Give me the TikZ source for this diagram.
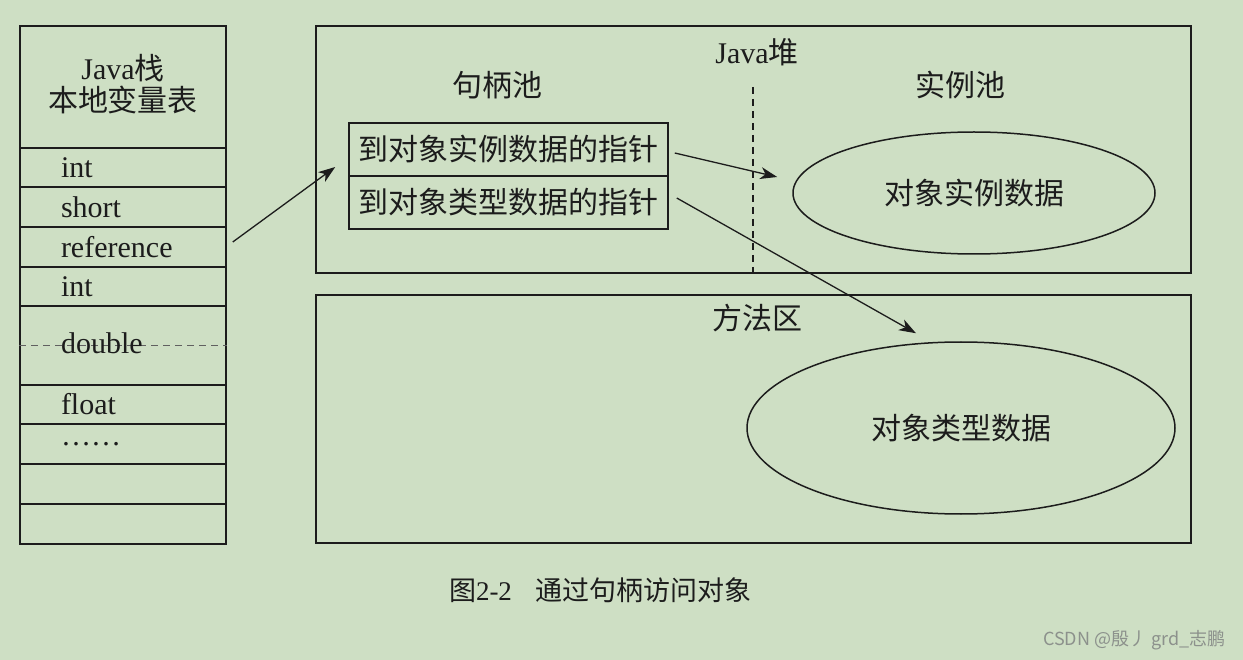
\documentclass[tikz,border=0pt]{standalone}
\usepackage{fontspec}
\setmainfont{Liberation Serif}
\newfontfamily\cjk{Noto Sans CJK SC}
\newfontfamily\wmfont{Noto Sans CJK SC}
\usetikzlibrary{arrows.meta,shapes.geometric}
\definecolor{bg}{RGB}{206,223,196}
\definecolor{ink}{RGB}{28,28,28}
\definecolor{wmgray}{RGB}{140,145,140}
\begin{document}
\begin{tikzpicture}[x=1pt,y=-1pt,
  every node/.style={text=ink},
  box/.style={draw=ink, line width=1.5pt, inner sep=0pt},
  row/.style={draw=ink, line width=1.5pt, minimum width=206pt, text width=124pt, inner xsep=41pt, inner ysep=0pt, align=left, font=\fontsize{30}{32}\selectfont},
  big/.style={font=\fontsize{30}{34}\selectfont},
  oval/.style={draw=ink, line width=1.5pt, ellipse, inner sep=0pt, font=\fontsize{30}{34}\selectfont},
  arr/.style={draw=ink, line width=1.3pt, -{Stealth[length=17pt,width=12pt,inset=5pt]}},
  dsh/.style={draw=ink, line width=1.1pt, dash pattern=on 7pt off 5pt}
]
\useasboundingbox[fill=bg] (0,0) rectangle (1243,660);

% Java stack
\node[box, minimum width=206pt, minimum height=122pt] (hdr) at (123,87) {};
\node[big, align=center] (hdrtxt) at (123,84) {Java{\cjk 栈}\\[-2pt]{\cjk 本地变量表}};
\node[row, minimum height=39pt] (r1) at (123,167.5) {int};
\node[row, minimum height=40pt] (r2) at (123,207) {short};
\node[row, minimum height=40pt] (r3) at (123,247) {reference};
\node[row, minimum height=39pt] (r4) at (123,286.5) {int};
\node[row, minimum height=79pt] (r5) at (123,345.5) {};
\draw[dsh, draw=ink!70] (r5.west) -- (r5.east);
\node[row, draw=none, minimum height=40pt] (r5t) at (123,343) {double};
\node[row, minimum height=39pt] (r6) at (123,404.5) {float};
\node[row, minimum height=40pt] (r7) at (123,444) {……};
\node[row, minimum height=40pt] (r8) at (123,484) {};
\node[row, minimum height=40pt] (r9) at (123,524) {};

% Java heap
\node[box, minimum width=875pt, minimum height=247pt] (heap) at (753.5,149.5) {};
\node[big] (heaplbl) at (757,52) {Java{\cjk 堆}};
\node[big] (poolA) at (497,85) {\cjk 句柄池};
\node[big] (poolB) at (960,85) {\cjk 实例池};
\coordinate (dtop) at (753,87);
\draw[dsh] (dtop) -- (dtop |- heap.south);

\node[box, minimum width=319pt, minimum height=53pt, big] (h1) at (508.5,149.5) {\cjk 到对象实例数据的指针};
\node[box, minimum width=319pt, minimum height=53pt, big] (h2) at (508.5,202.5) {\cjk 到对象类型数据的指针};

\node[oval, minimum width=362pt, minimum height=122pt] (e1) at (974,193) {\cjk 对象实例数据};

% Method area
\node[box, minimum width=875pt, minimum height=248pt] (meth) at (753.5,419) {};
\node[big] (methlbl) at (757,318) {\cjk 方法区};
\node[oval, minimum width=428pt, minimum height=172pt] (e2) at (961,428) {\cjk 对象类型数据};

% Arrows
\draw[arr] ([xshift=6pt,yshift=5pt]r3.east) -- ([xshift=-13pt,yshift=-17.5pt]h1.west);
\draw[arr] ([xshift=6pt,yshift=-3.5pt]h1.east) -- ([xshift=-15pt,yshift=16pt]e1.west);
\draw[arr] ([xshift=8pt,yshift=4.5pt]h2.east) -- ([xshift=-45pt,yshift=8pt]e2.north);

% Caption
\node[font=\fontsize{27}{30}\selectfont] (cap) at (600.5,590) {{\cjk 图}2-2\hspace{24pt}{\cjk 通过句柄访问对象}};

% Watermark
\node[font=\wmfont\fontsize{18}{20}\selectfont, text=wmgray, anchor=east] (wm) at (1229,640) {CSDN @殷丿 grd\_志鹏};
\end{tikzpicture}
\end{document}
